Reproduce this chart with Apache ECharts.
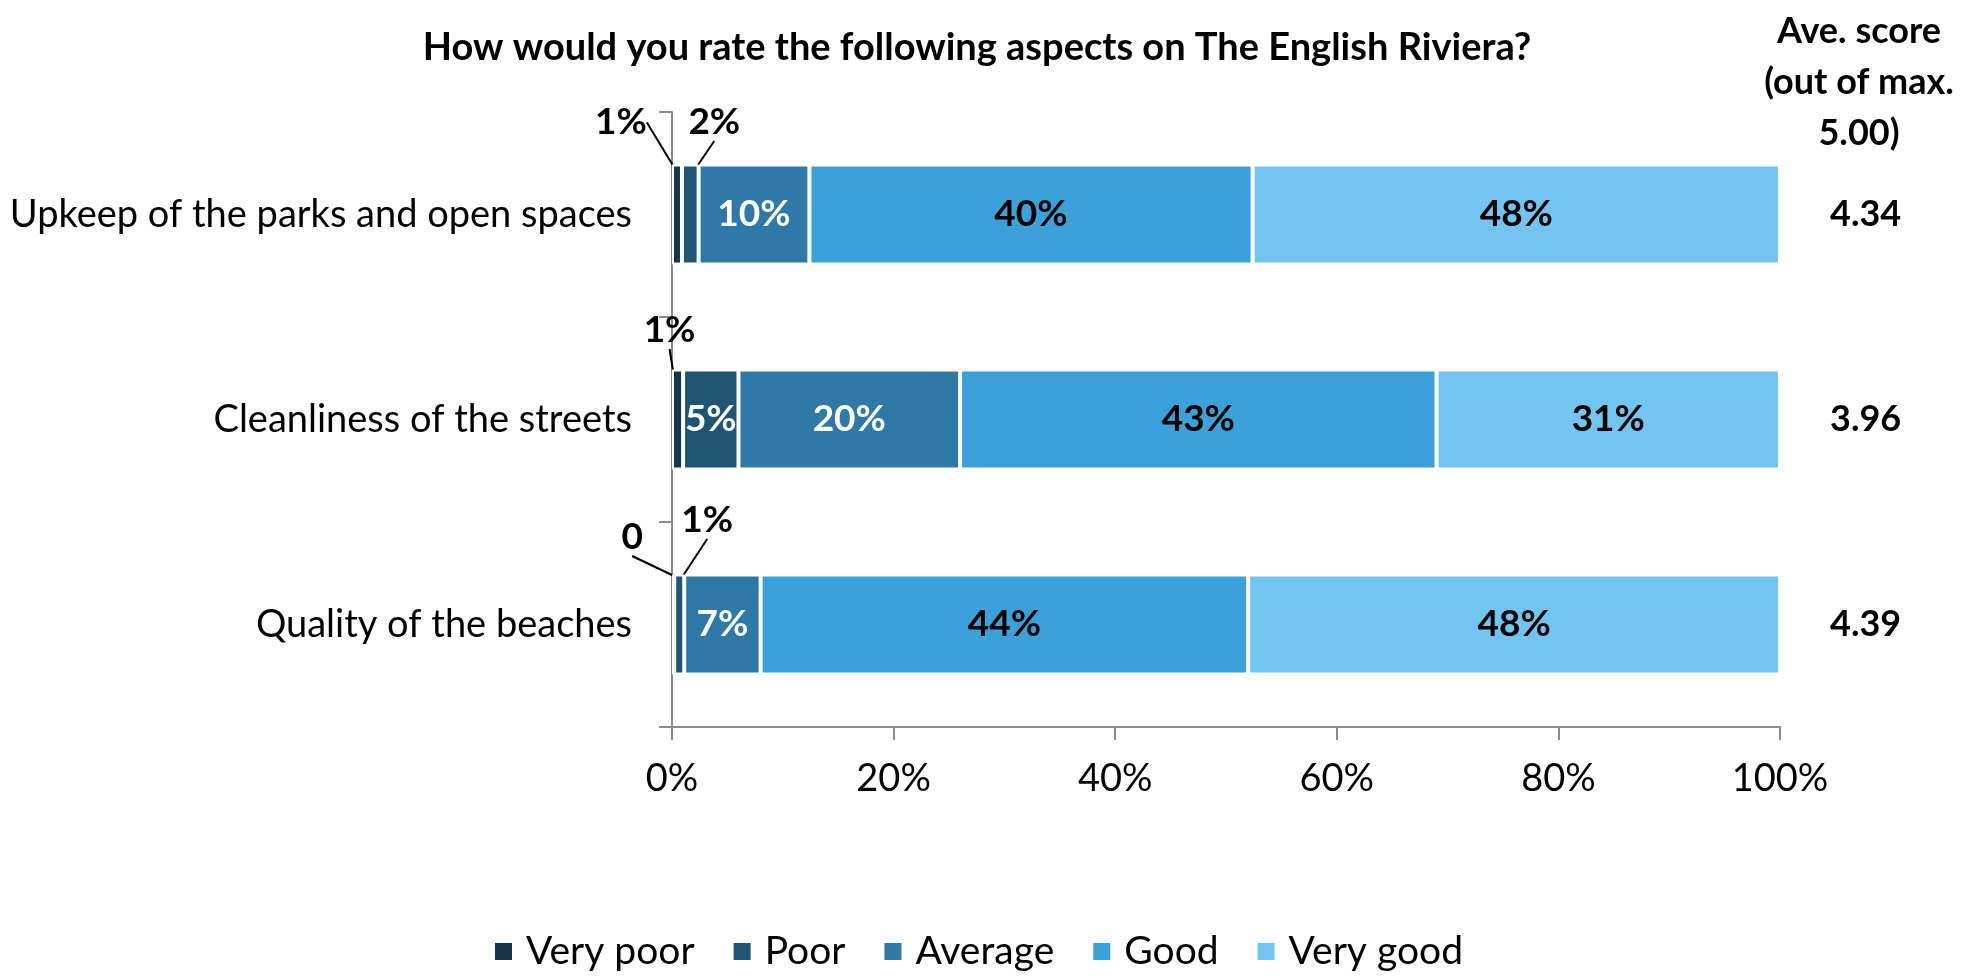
<!DOCTYPE html>
<html>
<head>
<meta charset="utf-8">
<title>The English Riviera – ratings</title>
<script src="https://cdn.jsdelivr.net/npm/echarts@6/dist/echarts.min.js"></script>
<style>
  html, body { margin: 0; padding: 0; background: #fff; }
  #chart { width: 1983px; height: 976px; }
</style>
</head>
<body>
<div id="chart"></div>
<script>
// Aspects rated (top to bottom)
const categories = [
  'Upkeep of the parks and open spaces',
  'Cleanliness of the streets',
  'Quality of the beaches'
];

// Rating bands
const ratingNames = ['Very poor', 'Poor', 'Average', 'Good', 'Very good'];

// Share of respondents (%) per band, one value per aspect
const veryPoor = [0.9, 1.0, 0.2];
const poor     = [1.5, 5.0, 0.9];
const average  = [10.0, 20.0, 6.9];
const good     = [40.0, 43.0, 44.0];
const veryGood = [47.6, 31.0, 48.0];

// Average score per aspect (out of 5.00)
const aveScores = ['4.34', '3.96', '4.39'];

// X axis ticks
const xTicks = [0, 20, 40, 60, 80, 100];

const FONT = 'Lato';
const bandColors = ['#16354a', '#205475', '#2e79a6', '#3da1d9', '#74c4f2'];
const labelColors = ['#ffffff', '#ffffff', '#ffffff', '#000000', '#000000'];
const bandValues = [veryPoor, poor, average, good, veryGood];

// Segments too thin for an inside label get moved out with a leader line:
// key "series-dataIndex" -> shift of the label from the segment centre
const movedLabels = {
  '0-0': { dx: -56, dy: -92 },
  '1-0': { dx: 24, dy: -92 },
  '0-1': { dx: -8, dy: -89 },
  '0-2': { dx: -41, dy: -87 },
  '1-2': { dx: 28, dy: -104 }
};

function fmtPct(v) {
  const r = Math.round(v);
  return r === 0 ? '0' : r + '%';
}

const series = bandValues.map((vals, si) => ({
  name: ratingNames[si],
  type: 'bar',
  stack: 'total',
  barWidth: 100,
  itemStyle: { color: bandColors[si], borderColor: '#ffffff', borderWidth: 2 },
  label: {
    show: true,
    position: 'inside',
    fontFamily: FONT,
    fontWeight: 'bold',
    fontSize: 37,
    color: labelColors[si],
    formatter: p => fmtPct(p.value)
  },
  labelLayout: params => {
    const m = movedLabels[si + '-' + params.dataIndex];
    return m ? { dx: m.dx, dy: m.dy } : {};
  },
  data: vals.map((v, di) => {
    const moved = movedLabels[si + '-' + di];
    if (!moved) return v;
    return {
      value: v,
      label: { color: '#000000' },
      labelLine: { show: true, lineStyle: { color: '#000000', width: 2 } }
    };
  }),
  emphasis: { disabled: true }
}));

const chart = echarts.init(document.getElementById('chart'));
chart.setOption({
  animation: false,
  backgroundColor: '#ffffff',
  title: [
    {
      text: 'How would you rate the following aspects on The English Riviera?',
      left: 972,
      top: 24,
      textAlign: 'center',
      textStyle: { fontFamily: FONT, fontWeight: 'bold', fontSize: 38, color: '#000' }
    },
    {
      text: 'Ave. score\n(out of max.\n5.00)',
      left: 1854,
      top: 1,
      textAlign: 'center',
      textStyle: { fontFamily: FONT, fontWeight: 'bold', fontSize: 36, lineHeight: 51, color: '#000' }
    }
  ],
  legend: {
    data: ratingNames,
    left: 488,
    top: 927,
    icon: 'rect',
    itemWidth: 19,
    itemHeight: 19,
    itemGap: 37,
    textStyle: { fontFamily: FONT, fontSize: 39, color: '#000', padding: [0, 0, 0, 8] }
  },
  grid: { left: 672, right: 203, top: 112, bottom: 249, containLabel: false },
  xAxis: {
    type: 'value',
    min: xTicks[0],
    max: xTicks[xTicks.length - 1],
    interval: xTicks[1] - xTicks[0],
    axisLine: { show: true, lineStyle: { color: '#8c8c8c', width: 2 } },
    axisTick: { show: true, length: 13, lineStyle: { color: '#8c8c8c', width: 2 } },
    splitLine: { show: false },
    axisLabel: {
      margin: 33,
      fontFamily: FONT,
      fontSize: 38,
      color: '#000',
      formatter: v => v + '%'
    }
  },
  yAxis: [
    {
      type: 'category',
      data: categories,
      inverse: true,
      axisLine: { show: true, lineStyle: { color: '#8c8c8c', width: 2 } },
      axisTick: { show: true, length: 13, lineStyle: { color: '#8c8c8c', width: 2 } },
      axisLabel: { margin: 40, fontFamily: FONT, fontSize: 38, color: '#000' }
    },
    {
      type: 'category',
      data: aveScores,
      inverse: true,
      position: 'right',
      axisLine: { show: false },
      axisTick: { show: false },
      axisLabel: {
        margin: 50,
        align: 'left',
        fontFamily: FONT,
        fontWeight: 'bold',
        fontSize: 36,
        color: '#000'
      }
    }
  ],
  series: series
});
</script>
</body>
</html>
